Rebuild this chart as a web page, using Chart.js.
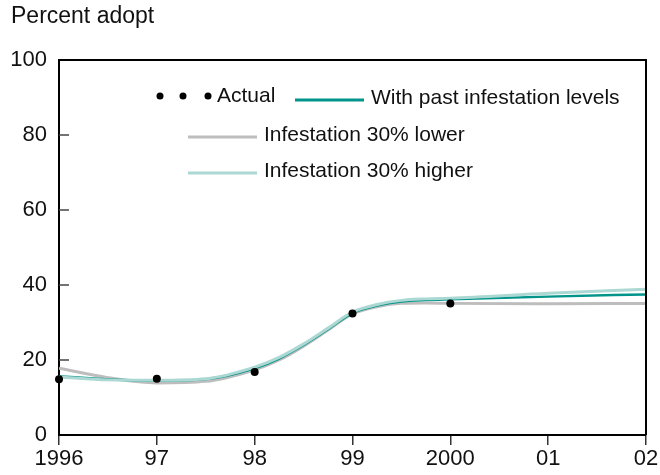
<!DOCTYPE html>
<html>
<head>
<meta charset="utf-8">
<script src="https://cdn.jsdelivr.net/npm/chart.js@4"></script>
<style>
  html, body { margin: 0; padding: 0; background: #fff; }
  #wrap { width: 660px; height: 475px; }
</style>
</head>
<body>
<div id="wrap"><canvas id="chart"></canvas></div>
<script>
const yearLabels = ["1996", "97", "98", "99", "2000", "01", "02"];

const actualYears = [1996, 1997, 1998, 1999, 2000];
const actualValues = [14.9, 15.0, 16.8, 32.4, 35.1];

const curveYears = [1996, 1996.5, 1997, 1997.5, 1998, 1998.25, 1998.5, 1998.75, 1999, 1999.25, 1999.5, 1999.75, 2000, 2001, 2002];
const pastLevels = [15.7, 14.8, 14.5, 14.9, 17.8, 20.4, 24.0, 28.2, 32.5, 34.5, 35.6, 36.0, 36.2, 36.9, 37.5];
const lower30 = [17.8, 15.3, 13.9, 14.3, 17.4, 20.0, 23.7, 28.0, 32.3, 34.2, 35.1, 35.2, 35.1, 35.0, 35.1];
const higher30 = [15.5, 14.7, 14.6, 15.0, 18.1, 20.7, 24.3, 28.5, 32.8, 34.8, 35.9, 36.3, 36.5, 37.8, 38.9];

const FONT = "'Liberation Sans', Arial, sans-serif";

function pts(xs, ys) {
  return xs.map((x, i) => ({ x: x, y: ys[i] }));
}

// title, frame, inside y ticks and the hand-laid legend
const decor = {
  id: "decor",
  afterDraw(chart) {
    const c = chart.ctx;
    const a = chart.chartArea;
    const ys = chart.scales.y;
    c.save();
    c.fillStyle = "#111";
    c.font = "23px " + FONT;
    c.textBaseline = "middle";
    c.textAlign = "left";
    c.fillText("Percent adopt", 11, 17);

    c.strokeStyle = "#000";
    c.lineWidth = 2;
    c.beginPath();
    c.moveTo(a.left, a.top);
    c.lineTo(a.right, a.top);
    c.lineTo(a.right, a.bottom);
    c.stroke();

    c.lineWidth = 1.5;
    c.strokeStyle = "#444";
    [20, 40, 60, 80].forEach((v) => {
      const y = ys.getPixelForValue(v);
      c.beginPath();
      c.moveTo(a.left, y);
      c.lineTo(a.left + 10, y);
      c.stroke();
    });

    // legend
    const lx = a.left;
    const ty = a.top;
    c.font = "21px " + FONT;
    c.fillStyle = "#000";
    [101, 124, 149].forEach((dx) => {
      c.beginPath();
      c.arc(lx + dx, ty + 36, 3.5, 0, Math.PI * 2);
      c.fill();
    });
    c.fillStyle = "#111";
    c.fillText("Actual", lx + 158, ty + 36);

    const rows = [
      { x0: 236, y: 40, color: "#00948a", text: "With past infestation levels" },
      { x0: 129, y: 77, color: "#bdbdbd", text: "Infestation 30% lower" },
      { x0: 129, y: 113, color: "#acd8d3", text: "Infestation 30% higher" },
    ];
    rows.forEach((r) => {
      c.strokeStyle = r.color;
      c.lineWidth = 3;
      c.beginPath();
      c.moveTo(lx + r.x0, ty + r.y);
      c.lineTo(lx + r.x0 + 69, ty + r.y);
      c.stroke();
      c.fillText(r.text, lx + r.x0 + 76, ty + r.y - 2);
    });
    c.restore();
  },
};

new Chart(document.getElementById("chart"), {
  type: "line",
  data: {
    datasets: [
      {
        label: "Actual",
        data: pts(actualYears, actualValues),
        showLine: false,
        pointRadius: 4,
        pointBackgroundColor: "#000",
        pointBorderWidth: 0,
        clip: false,
        order: 0,
      },
      {
        label: "Infestation 30% higher",
        data: pts(curveYears, higher30),
        borderColor: "#acd8d3",
        borderWidth: 3,
        pointRadius: 0,
        order: 1,
      },
      {
        label: "With past infestation levels",
        data: pts(curveYears, pastLevels),
        borderColor: "#00948a",
        borderWidth: 2.5,
        pointRadius: 0,
        order: 2,
      },
      {
        label: "Infestation 30% lower",
        data: pts(curveYears, lower30),
        borderColor: "#bdbdbd",
        borderWidth: 3,
        pointRadius: 0,
        order: 3,
      },
    ],
  },
  options: {
    responsive: true,
    maintainAspectRatio: false,
    animation: false,
    layout: { padding: { top: 60, right: 14, left: 0, bottom: 0 } },
    elements: {
      line: { cubicInterpolationMode: "monotone" },
    },
    scales: {
      x: {
        type: "linear",
        min: 1996,
        max: 2002,
        afterFit: (s) => { s.height = 40; },
        ticks: {
          stepSize: 1,
          color: "#111",
          padding: 1,
          maxRotation: 0,
          autoSkip: false,
          font: { size: 22, family: FONT },
          callback: (v) => yearLabels[v - 1996],
        },
        grid: {
          drawOnChartArea: false,
          tickLength: 10,
          color: "#333",
          lineWidth: 1.5,
        },
        border: { color: "#000", width: 2 },
      },
      y: {
        min: 0,
        max: 100,
        afterFit: (s) => { s.width = 59; },
        ticks: {
          stepSize: 20,
          color: "#111",
          padding: 12,
          font: { size: 22, family: FONT },
        },
        grid: { display: false, drawTicks: false },
        border: { color: "#000", width: 2 },
      },
    },
    plugins: {
      legend: { display: false },
      tooltip: { enabled: false },
    },
  },
  plugins: [decor],
});
</script>
</body>
</html>
